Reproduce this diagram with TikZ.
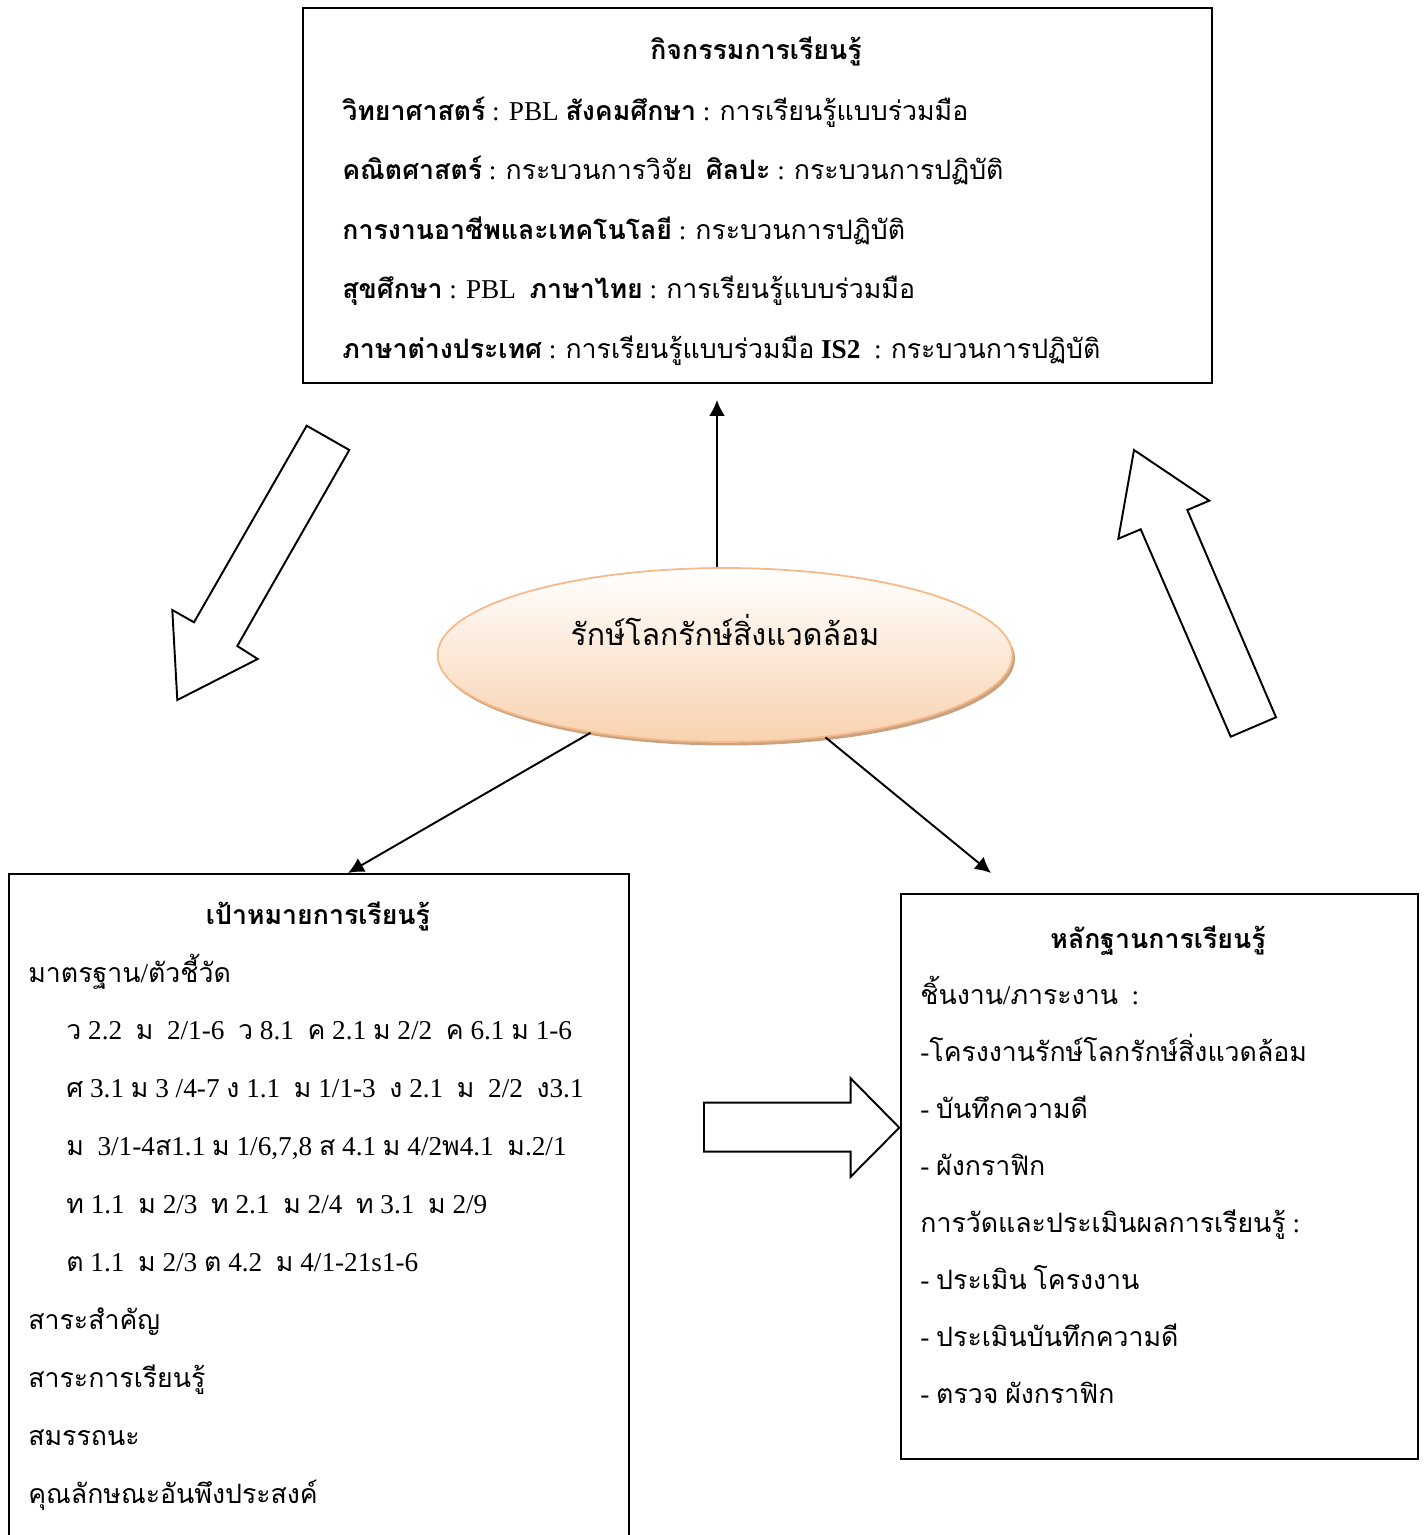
\documentclass[tikz,border=0pt]{standalone}
\usepackage{fontspec}
\setmainfont{Liberation Serif}
\newfontfamily\thaifont[Script=Thai,Scale=0.98]{Loma}
\usetikzlibrary{arrows.meta,shapes.geometric,shadows}
\definecolor{peach}{HTML}{F9D2B0}
\definecolor{peachline}{HTML}{F6B987}
\definecolor{peachshadow}{HTML}{C9A183}

% Thai letters are set in Loma, everything else in Liberation Serif
\XeTeXinterchartokenstate=1
\newXeTeXintercharclass\thaiclass
\count255="0E00
\loop
  \XeTeXcharclass\count255=\thaiclass
  \ifnum\count255<"0E7F \advance\count255 by 1
\repeat
\XeTeXinterchartoks 0 \thaiclass = {\thaifont}
\XeTeXinterchartoks 4095 \thaiclass = {\thaifont}
\XeTeXinterchartoks \thaiclass 0 = {\rmfamily}
\XeTeXinterchartoks \thaiclass 4095 = {\rmfamily}

\begin{document}
\begin{tikzpicture}[x=0.02cm,y=-0.02cm,>={Latex[length=9pt,width=9pt]},
  font=\fontsize{15.5}{19}\selectfont,
  box/.style={rectangle, draw, line width=1.1pt, inner sep=0pt, anchor=north west},
  boxtitle/.style={font=\fontsize{15.5}{19}\selectfont\bfseries, anchor=base, inner sep=0pt},
  item/.style={anchor=base west, inner sep=0pt},
  hollow/.style={draw, line width=1.1pt, fill=white, line join=miter},
  theme/.style={ellipse, draw=peachline, line width=1pt, top color=white, bottom color=peach,
    minimum width=11.5cm, minimum height=3.48cm, inner sep=0pt, text height=0.5cm, text depth=0.9cm,
    font=\fontsize{17.6}{21}\selectfont,
    drop shadow={shadow xshift=0.05cm, shadow yshift=-0.07cm, fill=peachshadow, opacity=1}}]
\useasboundingbox (0,0) rectangle (1424,1535);
\clip (0,0) rectangle (1424,1535);

\draw (302,7) node[box, minimum width=18.18cm, minimum height=7.5cm] (act) {};
\draw (8,873) node[box, minimum width=12.4cm, minimum height=14.6cm] (goal) {};
\draw (900,893) node[box, minimum width=10.34cm, minimum height=11.3cm] (proof) {};
\draw (725,655) node[theme] (theme) {รักษ์โลกรักษ์สิ่งแวดล้อม};

\draw (756,59) node[boxtitle] (actTitle) {กิจกรรมการเรียนรู้};
\foreach \txt [count=\i] in {
  {\textbf{วิทยาศาสตร์} : PBL \textbf{สังคมศึกษา} : การเรียนรู้แบบร่วมมือ},
  {\textbf{คณิตศาสตร์} : กระบวนการวิจัย\ \ \textbf{ศิลปะ} : กระบวนการปฏิบัติ},
  {\textbf{การงานอาชีพและเทคโนโลยี} : กระบวนการปฏิบัติ},
  {\textbf{สุขศึกษา} : PBL\ \ \textbf{ภาษาไทย} : การเรียนรู้แบบร่วมมือ},
  {\textbf{ภาษาต่างประเทศ} : การเรียนรู้แบบร่วมมือ \textbf{IS2}\ \ : กระบวนการปฏิบัติ}}
  \draw (342,{120+59.5*(\i-1)}) node[item] (act-\i) {\txt};

\draw (318,924) node[boxtitle] (goalTitle) {เป้าหมายการเรียนรู้};
\draw (28,982) node[item] (goal-0) {มาตรฐาน/ตัวชี้วัด};
\foreach \txt [count=\i] in {
  {ว 2.2\ \ ม\ \ 2/1-6\ \ ว 8.1\ \ ค 2.1 ม 2/2\ \ ค 6.1 ม 1-6},
  {ศ 3.1 ม 3 /4-7 ง 1.1\ \ ม 1/1-3\ \ ง 2.1\ \ ม\ \ 2/2\ \ ง3.1},
  {ม\ \ 3/1-4ส1.1 ม 1/6,7,8 ส 4.1 ม 4/2พ4.1\ \ ม.2/1},
  {ท 1.1\ \ ม 2/3\ \ ท 2.1\ \ ม 2/4\ \ ท 3.1\ \ ม 2/9},
  {ต 1.1\ \ ม 2/3 ต 4.2\ \ ม 4/1-21s1-6}}
  \draw (66,{982+57.9*\i}) node[item] (code-\i) {\txt};
\foreach \txt [count=\i] in {สาระสำคัญ, สาระการเรียนรู้, สมรรถนะ, คุณลักษณะอันพึงประสงค์}
  \draw (28,{1329.4+57.9*(\i-1)}) node[item] (goal-\i) {\txt};

\draw (1158,948) node[boxtitle] (proofTitle) {หลักฐานการเรียนรู้};
\foreach \txt [count=\i] in {
  {ชิ้นงาน/ภาระงาน\ \ :}, {-โครงงานรักษ์โลกรักษ์สิ่งแวดล้อม}, {- บันทึกความดี}, {- ผังกราฟิก},
  {การวัดและประเมินผลการเรียนรู้ :}, {- ประเมิน โครงงาน}, {- ประเมินบันทึกความดี}, {- ตรวจ ผังกราฟิก}}
  \draw (920,{1004+57.1*(\i-1)}) node[item] (proof-\i) {\txt};

\coordinate (actTip) at (717,400);
\coordinate (goalTip) at (348,873);
\coordinate (proofTip) at (991,873);
\draw [line width=1.1pt, ->] (theme.north -| actTip) -- (actTip);
\draw [line width=1.1pt, ->] (theme) -- (goalTip);
\draw [line width=1.1pt, ->] (theme) -- (proofTip);

\draw [hollow] (306.7,425.7) -- (349.3,450) -- (237.3,646) -- (257.7,659) -- (177.3,700) -- (172.3,610) -- (194,622.3) -- cycle;
\draw [hollow] (1134,450) -- (1209.3,500.7) -- (1187.3,510) -- (1276,717.3) -- (1230.7,736.7) -- (1140.7,529.3) -- (1118.3,538.7) -- cycle;
\draw [hollow] (704,1102.7) -- (850.7,1102.7) -- (850.7,1078.3) -- (899.3,1127.7) -- (850.7,1176.7) -- (850.7,1151.7) -- (704,1151.7) -- cycle;
\end{tikzpicture}
\end{document}
